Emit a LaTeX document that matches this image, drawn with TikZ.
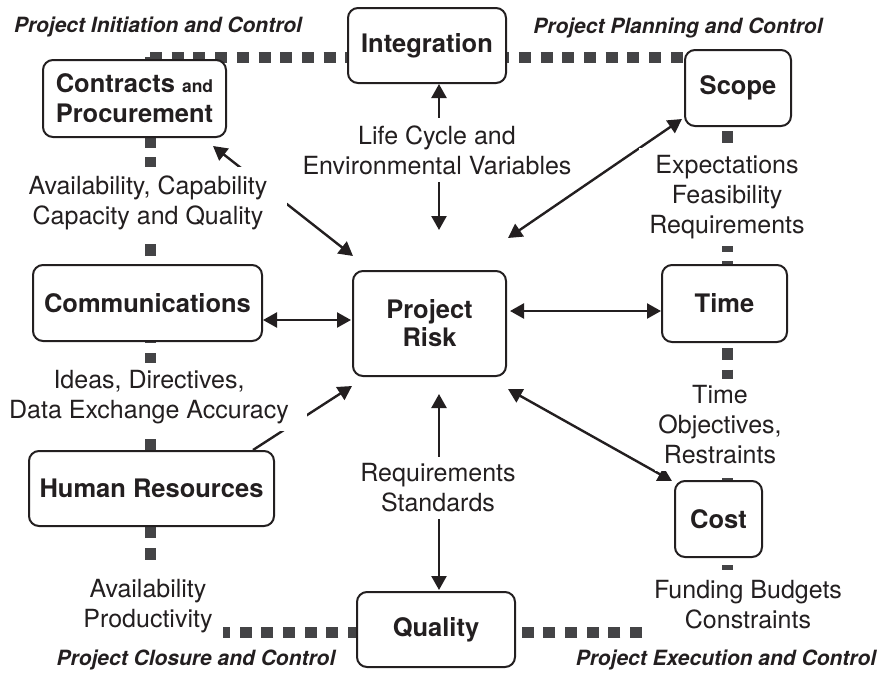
\documentclass[tikz,border=0pt]{standalone}
\usepackage{fontspec}
\setmainfont{TeX Gyre Heros}
\usetikzlibrary{arrows.meta,calc}
\definecolor{ink}{RGB}{35,31,32}
\definecolor{dashgray}{RGB}{68,68,70}
\pgfdeclarelayer{bg}
\pgfsetlayers{bg,main}
\begin{document}
\begin{tikzpicture}[x=1pt,y=-1pt,
  box/.style={draw=ink, line width=2pt, rounded corners=10pt, fill=white, inner sep=0pt,
    align=center, text=ink, font=\fontsize{25.5}{30}\selectfont\bfseries},
  lbl/.style={fill=white, inner xsep=10pt, inner ysep=7pt, align=center, text=ink,
    font=\fontsize{25}{30}\selectfont},
  hdr/.style={inner sep=0pt, text=ink, font=\fontsize{21}{25}\selectfont\bfseries\itshape},
  frame/.style={draw=dashgray, line width=11pt, dash pattern=on 12pt off 9.7pt},
  link/.style={draw=ink, line width=2.4pt,
    {Triangle[length=14pt,width=15pt]}-{Triangle[length=14pt,width=15pt]}},
  link1/.style={draw=ink, line width=2.4pt, -{Triangle[length=14pt,width=15pt]}},
]
\useasboundingbox (0,0) rectangle (884,673);

% boxes
\node[box, minimum width=158pt, minimum height=75pt] (int) at (427,45.5) {Integration};
\node[box, minimum width=106pt, minimum height=76pt] (scope) at (738,88) {Scope};
\node[box, minimum width=183pt, minimum height=77pt] (con) at (134.5,98.5)
  {Contracts {\fontsize{17.5}{20}\selectfont and}\\Procurement};
\node[box, minimum width=229pt, minimum height=76pt] (com) at (147.5,303) {Communications};
\node[box, minimum width=153pt, minimum height=105pt] (risk) at (429.5,323.5) {Project\\[-2pt]Risk};
\node[box, minimum width=125pt, minimum height=77pt] (time) at (724.5,303.5) {Time};
\node[box, minimum width=245pt, minimum height=75pt] (hr) at (151.5,488.5) {Human Resources};
\node[box, minimum width=87pt, minimum height=76pt] (cost) at (718.5,519) {Cost};
\node[box, minimum width=158pt, minimum height=75pt] (qual) at (436,629.5) {Quality};

% labels
\node[lbl] (lc) at (437,150) {Life Cycle and\\Environmental Variables};
\node[lbl, inner xsep=20pt, inner ysep=9pt] (ac) at (148,203) {Availability, Capability\\Capacity and Quality};
\node[lbl] (ex) at (727,197) {Expectations\\Feasibility\\Requirements};
\node[lbl, inner xsep=18pt] (id) at (149,397) {Ideas, Directives,\\Data Exchange Accuracy};
\node[lbl, inner xsep=3pt] (to) at (720,425) {Time\\Objectives,\\Restraints};
\node[lbl] (rs) at (438,488) {Requirements\\Standards};
\node[lbl, inner ysep=10pt] (ap) at (148,606) {Availability\\Productivity};
\node[lbl, inner ysep=11pt] (fb) at (748,605) {Funding Budgets\\Constraints};

% headers
\node[hdr] (h1) at (158,27) {Project Initiation and Control};
\node[hdr] (h2) at (678,28) {Project Planning and Control};
\node[hdr] (h3) at (196,660) {Project Closure and Control};
\node[hdr] (h4) at (726,660) {Project Execution and Control};

\begin{pgfonlayer}{bg}
  \coordinate (fTL) at (150,57);
  \coordinate (fTR) at (727,57);
  \coordinate (fBR) at (727,632);
  \coordinate (fBL) at (150,632);
  \draw[frame] (fTL) -- (fTR) -- (fBR) -- (fBL) -- cycle;

  \draw[link] ($(int.south)+(12,0)$) -- ($(risk.north)+(9.5,-40)$);
  \draw[link] ($(scope.south west)+(-2,-8)$) -- ($(risk.north east)+(1,-32)$);
  \draw[link] ($(risk.east)+(3,-12.5)$) -- ($(time.west)+(0,7.5)$);
  \draw[link] ($(com.east)+(0,17)$) -- ($(risk.west)+(-1,-3.5)$);
  \draw[link] ($(con.south east)+(-14,8)$) -- ($(risk.north west)+(1,-14)$);
  \draw[link1] ($(hr.north east)+(-22,0)$) -- ($(risk.south west)+(0,9)$);
  \draw[link] ($(risk.south)+(9.5,17)$) -- ($(qual.north)+(3,-1)$);
  \draw[link] ($(risk.south east)+(1,12)$) -- ($(cost.north west)+(-2,1)$);
\end{pgfonlayer}
\end{tikzpicture}
\end{document}
